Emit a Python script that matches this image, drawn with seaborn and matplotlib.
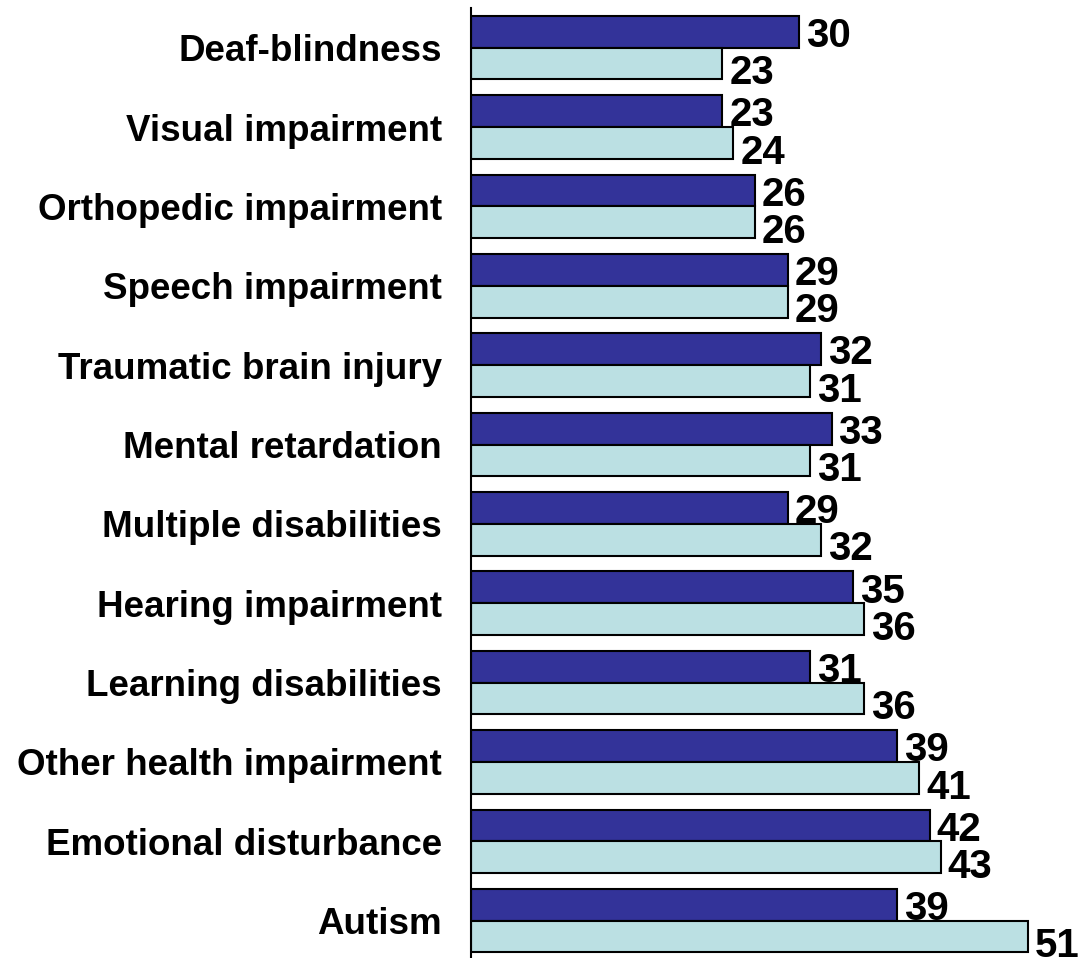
import pandas as pd
import matplotlib.pyplot as plt
import seaborn as sns

# Dados
categorias = ['Deaf-blindness', 'Visual impairment', 'Orthopedic impairment',
              'Speech impairment', 'Traumatic brain injury', 'Mental retardation',
              'Multiple disabilities', 'Hearing impairment', 'Learning disabilities',
              'Other health impairment', 'Emotional disturbance', 'Autism']
serie_1 = [30, 23, 26, 29, 32, 33, 29, 35, 31, 39, 42, 39]
serie_2 = [23, 24, 26, 29, 31, 31, 32, 36, 36, 41, 43, 51]
series = ['Serie 1', 'Serie 2']

df = pd.DataFrame({
    'categoria': categorias * 2,
    'valor': serie_1 + serie_2,
    'serie': [series[0]] * len(categorias) + [series[1]] * len(categorias),
})

sns.set_style('white')
plt.rcParams['font.family'] = ['Liberation Sans', 'DejaVu Sans']

fig = plt.figure(figsize=(10.84, 9.58), dpi=100)
ax = fig.add_axes([471 / 1084, 0, 1 - 471 / 1084, 950 / 958])

sns.barplot(data=df, y='categoria', x='valor', hue='serie', orient='h',
            palette=['#333399', '#BBE0E3'], saturation=1, edgecolor='black',
            linewidth=1.5, width=0.8, ax=ax, legend=False)

# Rótulos de valores
n = len(categorias)
for i, p in enumerate(ax.patches[:2 * n]):
    w = p.get_width()
    yc = p.get_y() + p.get_height() / 2
    dy = 3 if i < n else 7
    ax.annotate(f'{w:.0f}', (w, yc), xytext=(5, -dy), textcoords='offset points',
                ha='left', va='center', fontsize=29, fontweight='bold', color='black')

ax.set_xlim(0, 56.1)
ax.set_ylim(11.47, -0.5)
ax.set_xlabel('')
ax.set_ylabel('')
ax.set_xticks([])
ax.tick_params(axis='y', length=0, pad=21)
for lbl in ax.get_yticklabels():
    lbl.set_fontsize(26.5)
    lbl.set_fontweight('bold')
    lbl.set_color('black')

for s in ['top', 'right', 'bottom']:
    ax.spines[s].set_visible(False)
ax.spines['left'].set_color('black')
ax.spines['left'].set_linewidth(1.5)

fig.savefig('out.png', dpi=100)
